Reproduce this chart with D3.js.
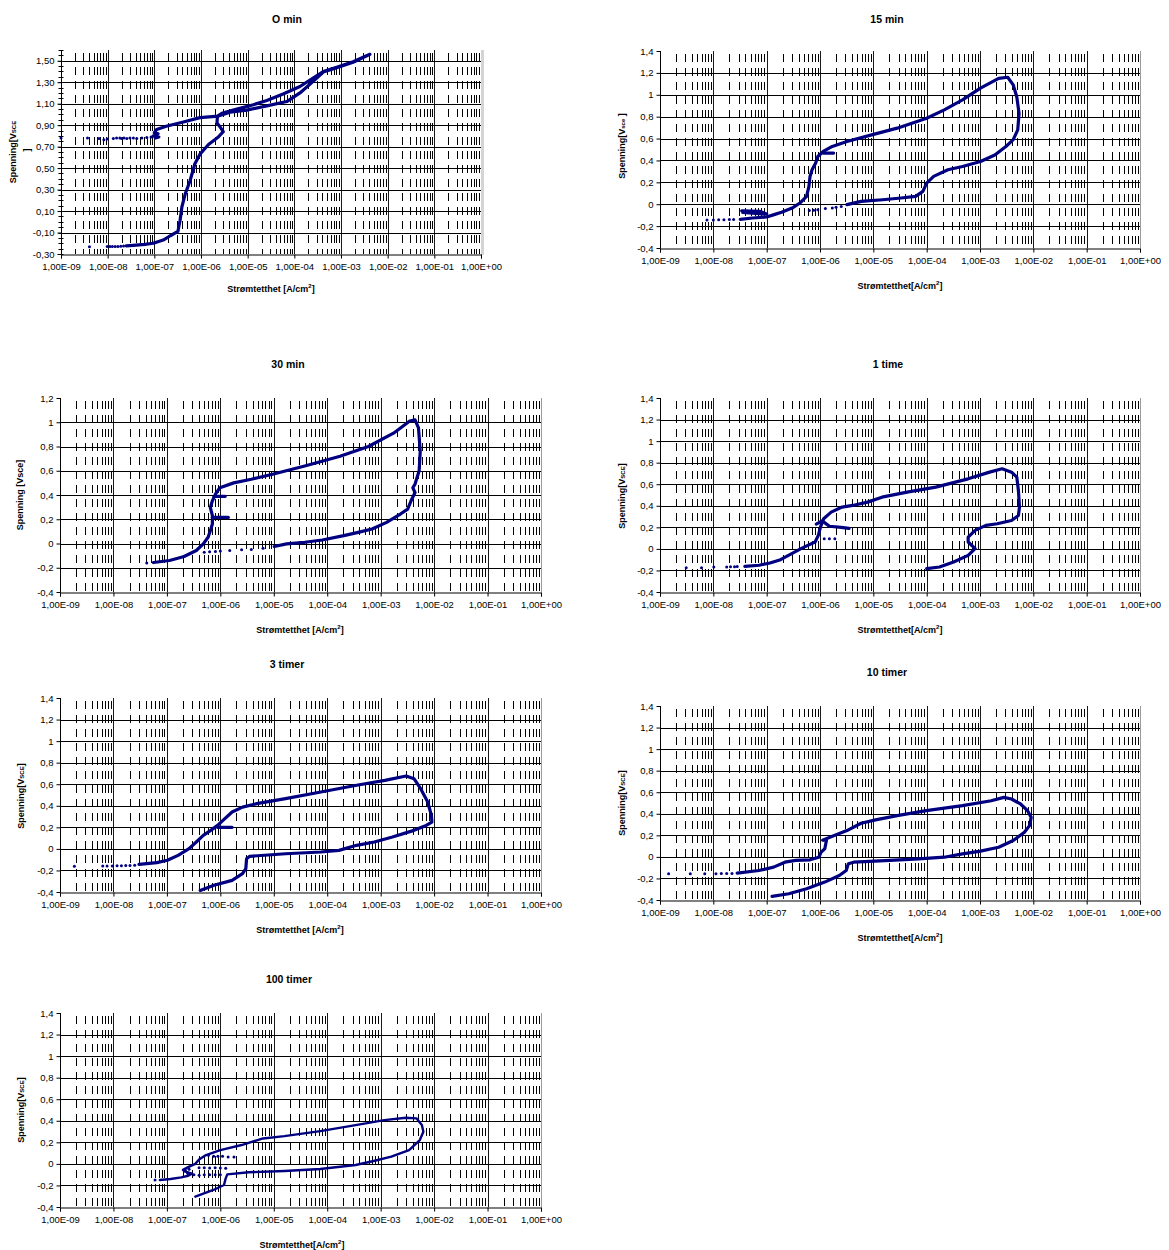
<!DOCTYPE html>
<html>
<head>
<meta charset="utf-8">
<script src="https://cdn.jsdelivr.net/npm/d3@7"></script>
<style>
  body { margin: 0; background: #fff; }
  text { font-family: "Liberation Sans", Arial, sans-serif; fill: #000; }
</style>
</head>
<body>
<svg id="chart" width="1169" height="1250"></svg>
<script>
// ---- Axis ticks -------------------------------------------------------
const currentTicks = [1e-9, 1e-8, 1e-7, 1e-6, 1e-5, 1e-4, 1e-3, 1e-2, 1e-1, 1];
const currentTickLabels = ["1,00E-09", "1,00E-08", "1,00E-07", "1,00E-06", "1,00E-05",
  "1,00E-04", "1,00E-03", "1,00E-02", "1,00E-01", "1,00E+00"];

const potentialTicks0 = [-0.3, -0.1, 0.1, 0.3, 0.5, 0.7, 0.9, 1.1, 1.3, 1.5];
const potentialTickLabels0 = ["-0,30", "-0,10", "0,10", "0,30", "0,50", "0,70", "0,90", "1,10", "1,30", "1,50"];
const potentialTicks = [-0.4, -0.2, 0, 0.2, 0.4, 0.6, 0.8, 1, 1.2, 1.4];
const potentialTickLabels = ["-0,4", "-0,2", "0", "0,2", "0,4", "0,6", "0,8", "1", "1,2", "1,4"];
const potentialTicks30 = [-0.4, -0.2, 0, 0.2, 0.4, 0.6, 0.8, 1, 1.2];
const potentialTickLabels30 = ["-0,4", "-0,2", "0", "0,2", "0,4", "0,6", "0,8", "1", "1,2"];

// ---- Polarisation curves: [current density A/cm2, potential V] --------
// 0 min
const min0_scan = [[2.5e-8,-0.225],[3.5e-8,-0.22],[6.3e-8,-0.21],[9.5e-8,-0.20],[1.55e-7,-0.17],[2.2e-7,-0.13],
  [3.2e-7,-0.09],[3.4e-7,-0.03],[3.55e-7,0.01],[3.9e-7,0.14],[4.6e-7,0.26],[5.8e-7,0.38],[7.4e-7,0.54],
  [9.5e-7,0.63],[1.45e-6,0.72],[2.35e-6,0.79],[3.0e-6,0.84],[2.6e-6,0.88],[2.2e-6,0.92],[2.25e-6,0.985],
  [2.8e-6,1.01],[4.9e-6,1.04],[1.32e-5,1.09],[2.57e-5,1.13],[5.75e-5,1.19],[1.32e-4,1.26],[2.57e-4,1.34],
  [4.17e-4,1.40],[8.1e-4,1.44],[1.82e-3,1.49],[4.17e-3,1.56],[1.82e-3,1.485],[8.1e-4,1.435],[4.17e-4,1.395],
  [2.57e-4,1.31],[1.32e-4,1.20],[6.9e-5,1.12],[2.57e-5,1.08],[9.5e-6,1.04],[4.2e-6,1.02],[2.35e-6,0.985],
  [9.5e-7,0.97],[4.2e-7,0.93],[1.8e-7,0.89],[1.12e-7,0.86],[1.0e-7,0.83],[1.2e-7,0.82],[9.5e-8,0.80],
  [1.25e-7,0.79],[1.05e-7,0.78]];
const min0_points = [[4.07e-9,-0.232],[9.8e-9,-0.231],[1.12e-8,-0.231],[1.26e-8,-0.23],[1.45e-8,-0.23],
  [1.66e-8,-0.229],[1.91e-8,-0.228],[2.19e-8,-0.226],
  [1e-9,0.78],[3.7e-9,0.78],[6.5e-9,0.775],[8.3e-9,0.765],[9.8e-9,0.77],[1.32e-8,0.775],[1.55e-8,0.78],
  [1.82e-8,0.78],[2.0e-8,0.775],[2.24e-8,0.78],[2.57e-8,0.775],[3.0e-8,0.78],[3.55e-8,0.78],[4.2e-8,0.775],
  [5.4e-8,0.78],[6.9e-8,0.785],[8.5e-8,0.79]];

// 15 min
const min15_scan = [[3.2e-8,-0.138],[5.4e-8,-0.126],[1.0e-7,-0.117],[1.38e-7,-0.095],[1.9e-7,-0.074],
  [3.0e-7,-0.035],[4.2e-7,0.011],[5.6e-7,0.072],[6.2e-7,0.163],[6.5e-7,0.254],[7.1e-7,0.315],[8.3e-7,0.376],
  [9.1e-7,0.436],[1.15e-6,0.482],[1.7e-6,0.528],[3.2e-6,0.573],[9.3e-6,0.634],[2.8e-5,0.695],[1.0e-4,0.786],
  [2.14e-4,0.862],[4.7e-4,0.953],[1.02e-3,1.06],[2.24e-3,1.15],[3.3e-3,1.16],[4.2e-3,1.09],[4.9e-3,0.98],
  [5.4e-3,0.83],[5.1e-3,0.68],[4.2e-3,0.59],[3.1e-3,0.53],[1.9e-3,0.45],[1.02e-3,0.39],[4.7e-4,0.345],
  [2.5e-4,0.315],[1.35e-4,0.254],[1.0e-4,0.193],[8.5e-5,0.117],[6.2e-5,0.072],[3.3e-5,0.057],[1.5e-5,0.041],
  [5.9e-6,0.026],[3.2e-6,-0.004]];
const min15_branchLow = [[3.4e-8,-0.06],[7.4e-8,-0.065],[1.0e-7,-0.09],[6.3e-8,-0.085],[3.55e-8,-0.075]];
const min15_branchMid = [[1.15e-6,0.467],[1.8e-6,0.467]];
const min15_points = [[7.6e-9,-0.145],[1.0e-8,-0.145],[1.26e-8,-0.143],[1.58e-8,-0.143],[2.0e-8,-0.14],
  [2.4e-8,-0.14],[2.5e-6,-0.02],[2.0e-6,-0.028],[1.7e-6,-0.035],[1.26e-6,-0.04],[9.1e-7,-0.05],
  [7.6e-7,-0.055],[6.3e-7,-0.058]];

// 30 min
const min30_scan = [[5.6e-8,-0.157],[1.12e-7,-0.14],[2.1e-7,-0.107],[3.55e-7,-0.058],[4.8e-7,-0.003],
  [5.9e-7,0.051],[6.5e-7,0.106],[7.1e-7,0.16],[7.1e-7,0.23],[6.5e-7,0.297],[7.1e-7,0.352],[8.1e-7,0.407],
  [9.8e-7,0.46],[1.78e-6,0.50],[3.8e-6,0.53],[9.5e-6,0.571],[3.8e-5,0.639],[1.74e-4,0.72],[5.9e-4,0.80],
  [1.74e-3,0.91],[3.5e-3,1.01],[4.4e-3,1.02],[5.1e-3,0.954],[5.5e-3,0.762],[5.25e-3,0.60],[4.4e-3,0.49],
  [4.0e-3,0.46],[4.4e-3,0.42],[3.7e-3,0.352],[3.2e-3,0.284],[2.34e-3,0.243],[1.29e-3,0.174],[6.9e-4,0.12],
  [3.8e-4,0.092],[2.04e-4,0.065],[8.1e-5,0.029],[3.8e-5,0.01],[1.74e-5,-0.003],[1.02e-5,-0.025]];
const min30_branchA = [[7.1e-7,0.215],[1.41e-6,0.215]];
const min30_branchB = [[7.6e-7,0.388],[1.23e-6,0.388]];
const min30_points = [[4.2e-8,-0.16],[6.3e-6,-0.04],[3.8e-6,-0.05],[2.5e-6,-0.052],[1.5e-6,-0.058],
  [1.0e-6,-0.062],[8.1e-7,-0.066],[6.3e-7,-0.068],[5.0e-7,-0.072]];

// 1 time
const hour1_scan = [[3.9e-8,-0.162],[7.2e-8,-0.152],[1.15e-7,-0.131],[1.82e-7,-0.10],[2.95e-7,-0.044],
  [4.4e-7,0.002],[5.9e-7,0.033],[8.1e-7,0.064],[9.3e-7,0.125],[1.02e-6,0.202],[1.17e-6,0.28],[1.62e-6,0.341],
  [2.6e-6,0.388],[4.1e-6,0.403],[7.8e-6,0.434],[1.45e-5,0.48],[4.3e-5,0.527],[1.48e-4,0.573],[6.0e-4,0.65],
  [1.51e-3,0.712],[2.6e-3,0.743],[3.9e-3,0.712],[4.9e-3,0.665],[5.25e-3,0.542],[5.5e-3,0.388],[5.25e-3,0.31],
  [3.9e-3,0.264],[2.1e-3,0.233],[1.29e-3,0.218],[8.1e-4,0.172],[6.0e-4,0.11],[6.0e-4,0.064],[8.1e-4,0.002],
  [6.0e-4,-0.06],[3.2e-4,-0.122],[1.74e-4,-0.168],[1.0e-4,-0.183]];
const hour1_branch = [[8.5e-7,0.23],[1.1e-6,0.26],[1.5e-6,0.21],[2.5e-6,0.20],[3.5e-6,0.19]];
const hour1_points = [[3.1e-9,-0.174],[6.0e-9,-0.174],[1.02e-8,-0.168],[1.78e-8,-0.168],[2.1e-8,-0.166],
  [2.5e-8,-0.165],[2.8e-8,-0.164],[1.2e-6,0.094],[1.5e-6,0.094],[1.9e-6,0.094]];

// 3 timer
const hours3_scan = [[3.0e-8,-0.143],[6.5e-8,-0.128],[1.02e-7,-0.106],[1.62e-7,-0.06],[2.6e-7,0.002],
  [3.55e-7,0.064],[4.8e-7,0.126],[6.6e-7,0.172],[8.9e-7,0.218],[1.12e-6,0.265],[1.66e-6,0.342],[2.6e-6,0.388],
  [4.8e-6,0.42],[1.66e-5,0.466],[7.6e-5,0.528],[3.55e-4,0.59],[1.2e-3,0.636],[3.0e-3,0.676],[4.2e-3,0.651],
  [5.6e-3,0.559],[7.6e-3,0.435],[8.9e-3,0.311],[9.1e-3,0.249],[7.1e-3,0.218],[4.2e-3,0.172],[1.66e-3,0.110],
  [7.6e-4,0.064],[3.55e-4,0.033],[1.66e-4,-0.014],[7.6e-5,-0.029],[1.66e-5,-0.045],[3.55e-6,-0.069],
  [3.1e-6,-0.091],[3.0e-6,-0.184],[2.6e-6,-0.23],[1.66e-6,-0.292],[7.6e-7,-0.338],[4.2e-7,-0.385]];
const hours3_branch = [[8.9e-7,0.2],[1.66e-6,0.2]];
const hours3_points = [[1.86e-9,-0.16],[6.3e-9,-0.159],[7.6e-9,-0.158],[9.5e-9,-0.158],[1.17e-8,-0.157],
  [1.41e-8,-0.156],[1.7e-8,-0.155],[2.04e-8,-0.153],[2.5e-8,-0.152]];

// 10 timer
const hours10_scan = [[2.8e-8,-0.151],[7.2e-8,-0.126],[1.35e-7,-0.095],[2.2e-7,-0.049],[3.5e-7,-0.033],
  [6.5e-7,-0.027],[9.5e-7,-0.003],[1.05e-6,0.044],[1.23e-6,0.075],[1.32e-6,0.152],[1.12e-6,0.155],
  [1.66e-6,0.189],[3.2e-6,0.244],[5.9e-6,0.312],[1.1e-5,0.343],[2.8e-5,0.383],[9.8e-5,0.429],[4.7e-4,0.475],
  [1.62e-3,0.521],[2.8e-3,0.552],[3.9e-3,0.537],[5.75e-3,0.491],[7.8e-3,0.429],[9.1e-3,0.367],[8.5e-3,0.29],
  [6.8e-3,0.229],[4.2e-3,0.152],[2.24e-3,0.09],[1.02e-3,0.053],[4.7e-4,0.028],[2.14e-4,-0.003],[7.1e-5,-0.018],
  [2.04e-5,-0.033],[4.3e-6,-0.049],[3.4e-6,-0.064],[3.1e-6,-0.126],[2.3e-6,-0.172],[1.23e-6,-0.234],
  [5.6e-7,-0.295],[2.6e-7,-0.342],[1.26e-7,-0.366]];
const hours10_points = [[1.45e-9,-0.157],[3.7e-9,-0.157],[6.9e-9,-0.157],[1.12e-8,-0.156],[1.41e-8,-0.155],
  [1.78e-8,-0.154],[2.24e-8,-0.153]];

// 100 timer
const hours100_scan = [[7.4e-8,-0.15],[1.17e-7,-0.14],[1.86e-7,-0.125],[2.5e-7,-0.11],[2.95e-7,-0.09],
  [2.14e-7,-0.07],[2.0e-7,-0.055],[2.5e-7,-0.03],[3.4e-7,0.0],[4.0e-7,0.04],[5.4e-7,0.082],[1.0e-6,0.128],
  [2.5e-6,0.175],[6.3e-6,0.236],[1.58e-5,0.258],[7.4e-5,0.304],[3.4e-4,0.36],[1.17e-3,0.406],[2.95e-3,0.428],
  [4.7e-3,0.422],[5.9e-3,0.36],[6.3e-3,0.298],[5.4e-3,0.221],[3.4e-3,0.128],[1.58e-3,0.067],[7.4e-4,0.027],
  [3.4e-4,-0.01],[7.4e-5,-0.047],[1.58e-5,-0.066],[3.4e-6,-0.078],[1.35e-6,-0.097],[1.26e-6,-0.134],
  [1.17e-6,-0.196],[7.4e-7,-0.242],[3.4e-7,-0.304]];
const hours100_points = [[4e-7,-0.035],[5e-7,-0.035],[6.3e-7,-0.037],[8e-7,-0.035],[1e-6,-0.038],
  [1.26e-6,-0.04],[2.5e-7,-0.1],[3.2e-7,-0.1],[4e-7,-0.105],[5e-7,-0.1],[6.3e-7,-0.1],[8e-7,-0.1],
  [1e-6,-0.1],[6e-7,0.08],[7.5e-7,0.07],[9e-7,0.07],[1.1e-6,0.07],[1.4e-6,0.065],[1.8e-6,0.065],
  [2.2e-7,-0.06],[2.4e-7,-0.08],[2.6e-7,-0.05],[6.0e-8,-0.15]];

// ---- Panel layout ----------------------------------------------------
const panels = [
  { title: "O min", tx: 287, ty: 23, x0: 61, x1: 481, y0: 50, y1: 254, dom: [-0.3, 1.6],
    ticks: potentialTicks0, tickLabels: potentialTickLabels0, minorY: true, rightBand: true,
    yLab: { x: 16, y: 152, sub: "SCE", tail: "", wrap: true }, xLab: "Strømtetthet [A/cm", xlx: 271, xly: 292,
    lines: [min0_scan], points: min0_points, width: 3.2 },
  { title: "15 min", tx: 887, ty: 23, x0: 660, x1: 1140, y0: 51, y1: 248, dom: [-0.4, 1.4],
    ticks: potentialTicks, tickLabels: potentialTickLabels,
    yLab: { x: 625, y: 146, sub: "sce", tail: " ]" }, xLab: "Strømtetthet[A/cm", xlx: 900, xly: 289,
    lines: [min15_scan, min15_branchLow, min15_branchMid], points: min15_points, width: 3.2 },
  { title: "30 min", tx: 288, ty: 368, x0: 60, x1: 541, y0: 398, y1: 592, dom: [-0.4, 1.2],
    ticks: potentialTicks30, tickLabels: potentialTickLabels30,
    yLab: { x: 23, y: 495, plain: "Spenning [Vsce]" }, xLab: "Strømtetthet [A/cm", xlx: 300, xly: 633,
    lines: [min30_scan, min30_branchA, min30_branchB], points: min30_points, width: 3.2 },
  { title: "1 time", tx: 888, ty: 368, x0: 660, x1: 1140, y0: 398, y1: 592, dom: [-0.4, 1.4],
    ticks: potentialTicks, tickLabels: potentialTickLabels,
    yLab: { x: 625, y: 496, sub: "SCE", tail: "]" }, xLab: "Strømtetthet[A/cm", xlx: 900, xly: 633,
    lines: [hour1_scan, hour1_branch], points: hour1_points, width: 3.2 },
  { title: "3 timer", tx: 287, ty: 668, x0: 60, x1: 541, y0: 698, y1: 892, dom: [-0.4, 1.4],
    ticks: potentialTicks, tickLabels: potentialTickLabels,
    yLab: { x: 24, y: 796, sub: "SCE", tail: "]" }, xLab: "Strømtetthet [A/cm", xlx: 300, xly: 933,
    lines: [hours3_scan, hours3_branch], points: hours3_points, width: 3.2 },
  { title: "10 timer", tx: 887, ty: 676, x0: 660, x1: 1140, y0: 706, y1: 900, dom: [-0.4, 1.4],
    ticks: potentialTicks, tickLabels: potentialTickLabels,
    yLab: { x: 625, y: 803, sub: "SCE", tail: "]" }, xLab: "Strømtetthet[A/cm", xlx: 900, xly: 941,
    lines: [hours10_scan], points: hours10_points, width: 3.2 },
  { title: "100 timer", tx: 289, ty: 983, x0: 60, x1: 541, y0: 1013, y1: 1207, dom: [-0.4, 1.4],
    ticks: potentialTicks, tickLabels: potentialTickLabels,
    yLab: { x: 24, y: 1110, sub: "SCE", tail: "]" }, xLab: "Strømtetthet[A/cm", xlx: 302, xly: 1248,
    lines: [hours100_scan], points: hours100_points, width: 2.4 }
];

const svg = d3.select("#chart");
const navy = "#000080";

function minorCurrents() {
  const out = [];
  for (let e = -9; e < 0; e++) for (let m = 2; m <= 9; m++) out.push(m * Math.pow(10, e));
  return out;
}

function drawPanel(p) {
  const g = svg.append("g");
  const x = d3.scaleLog().domain([1e-9, 1]).range([p.x0, p.x1]);
  const y = d3.scaleLinear().domain(p.dom).range([p.y1, p.y0]);
  const px = v => Math.round(v) + 0.5;

  // dashed minor gridlines at 2..9 x 10^n
  g.append("g").selectAll("line").data(minorCurrents()).join("line")
    .attr("x1", d => px(x(d))).attr("x2", d => px(x(d)))
    .attr("y1", p.y0).attr("y2", p.y1)
    .attr("stroke", "#000").attr("stroke-width", 1)
    .attr("stroke-dasharray", "8,6").attr("stroke-dashoffset", -3);

  // major vertical gridlines at each decade
  g.append("g").selectAll("line").data(currentTicks.slice(1, -1)).join("line")
    .attr("x1", d => px(x(d))).attr("x2", d => px(x(d)))
    .attr("y1", p.y0).attr("y2", p.y1)
    .attr("stroke", "#1a1a1a").attr("stroke-width", 1);

  // horizontal gridlines at labelled potentials
  const hTicks = p.ticks.filter(t => Math.abs(t - p.dom[0]) > 1e-9 && Math.abs(t - p.dom[1]) > 1e-9);
  g.append("g").selectAll("line").data(hTicks).join("line")
    .attr("x1", p.x0).attr("x2", p.x1)
    .attr("y1", d => px(y(d))).attr("y2", d => px(y(d)))
    .attr("stroke", "#000").attr("stroke-width", 1);

  // plot-area border (right side)
  if (p.rightBand) {
    g.append("rect").attr("x", p.x1).attr("y", p.y0).attr("width", 3).attr("height", p.y1 - p.y0 + 1)
      .attr("fill", "#d4d4d4");
  } else {
    g.append("line").attr("x1", px(p.x1)).attr("x2", px(p.x1)).attr("y1", p.y0).attr("y2", p.y1)
      .attr("stroke", "#9a9a9a").attr("stroke-width", 1);
  }

  // axes
  const yAxis = d3.axisLeft(y).tickValues(p.ticks)
    .tickFormat((d, i) => p.tickLabels[i]).tickSize(4).tickPadding(3);
  const ya = g.append("g").attr("transform", `translate(${px(p.x0)},0)`).call(yAxis);
  ya.select(".domain").attr("d", `M0,${p.y0}V${px(p.y1)}`);
  ya.selectAll("text").attr("font-size", 9.5).attr("font-family", '"Liberation Sans", Arial, sans-serif');

  if (p.minorY) {
    const minor = d3.range(p.dom[0], p.dom[1] + 1e-9, 0.05);
    g.append("g").selectAll("line").data(minor).join("line")
      .attr("x1", px(p.x0) - 3).attr("x2", px(p.x0) + 2)
      .attr("y1", d => px(y(d))).attr("y2", d => px(y(d)))
      .attr("stroke", "#000");
  }

  const xAxis = d3.axisBottom(x).tickValues(currentTicks)
    .tickFormat((d, i) => currentTickLabels[i]).tickSize(4).tickPadding(5);
  const xa = g.append("g").attr("transform", `translate(0,${px(p.y1)})`).call(xAxis);
  xa.selectAll("text").attr("font-size", 9.5).attr("font-family", '"Liberation Sans", Arial, sans-serif');

  // curves
  const line = d3.line().x(d => x(d[0])).y(d => y(d[1]));
  g.append("g").selectAll("path").data(p.lines).join("path")
    .attr("d", line).attr("fill", "none").attr("stroke", navy)
    .attr("stroke-width", p.width).attr("stroke-linejoin", "round").attr("stroke-linecap", "round");
  g.append("g").selectAll("circle").data(p.points).join("circle")
    .attr("cx", d => x(d[0])).attr("cy", d => y(d[1])).attr("r", 1.5).attr("fill", navy);

  // title
  g.append("text").attr("x", p.tx).attr("y", p.ty).attr("text-anchor", "middle")
    .attr("font-size", 10.5).attr("font-weight", "bold").text(p.title);

  // x-axis title with superscript 2
  const xt = g.append("text").attr("x", p.xlx).attr("y", p.xly).attr("text-anchor", "middle")
    .attr("font-size", 9).attr("font-weight", "bold");
  xt.append("tspan").text(p.xLab);
  xt.append("tspan").attr("font-size", 6).attr("dy", -4).text("2");
  xt.append("tspan").attr("dy", 4).text("]");

  // y-axis title
  const yl = p.yLab;
  const yt = g.append("text").attr("transform", `translate(${yl.x},${yl.y}) rotate(-90)`)
    .attr("text-anchor", "middle").attr("font-size", 9).attr("font-weight", "bold");
  if (yl.plain) {
    yt.text(yl.plain);
  } else {
    yt.append("tspan").text("Spenning[V");
    yt.append("tspan").attr("font-size", 6).text(yl.sub);
    if (yl.tail) yt.append("tspan").text(yl.tail);
    if (yl.wrap) {
      g.append("text").attr("transform", `translate(${yl.x + 14},${yl.y - 2}) rotate(-90)`)
        .attr("text-anchor", "middle").attr("font-size", 9).attr("font-weight", "bold").text("]");
    }
  }
}

panels.forEach(drawPanel);
</script>
</body>
</html>
